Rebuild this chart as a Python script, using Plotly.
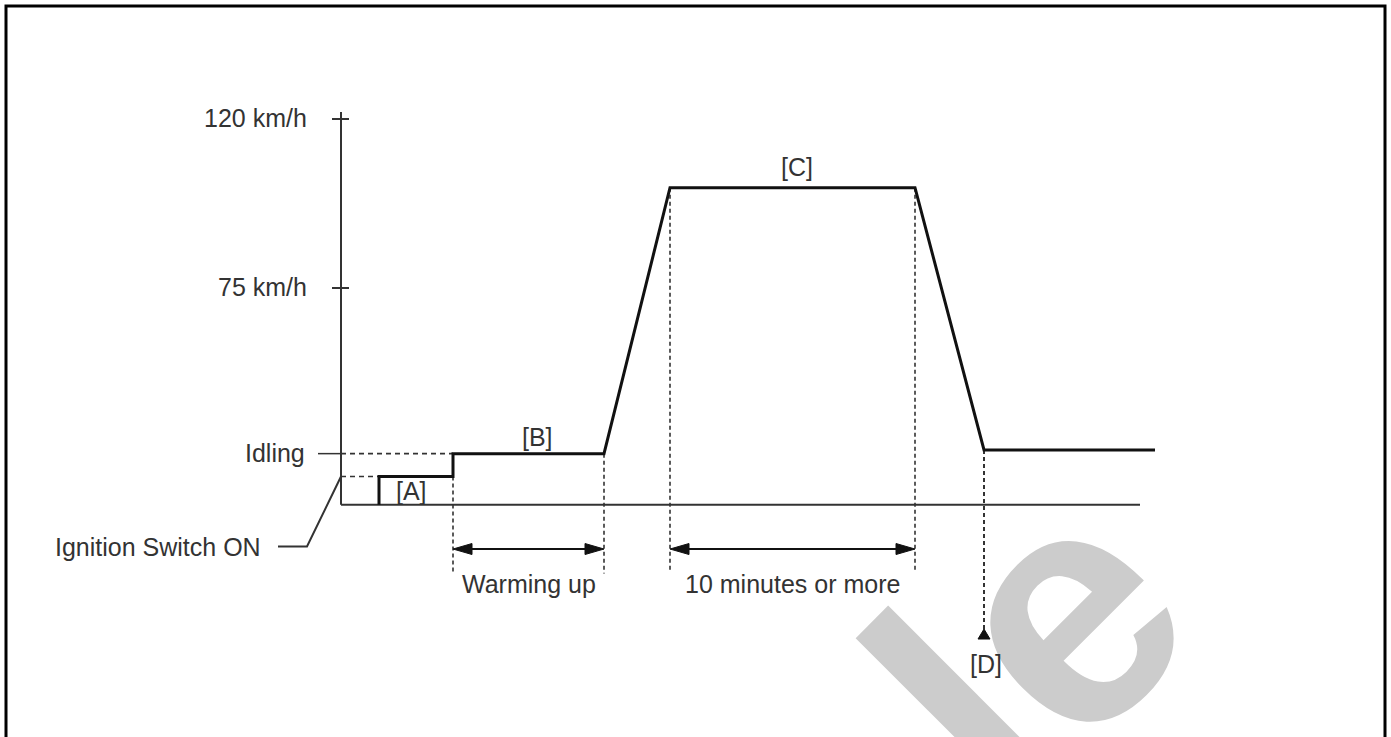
import plotly.graph_objects as go

# ---------------- data (schematic diagram units) ----------------
# time axis: arbitrary schematic time units (0 = ignition switch ON)
T_PROFILE = [3.8, 3.8, 11.2, 11.2, 26.3, 32.9, 57.4, 64.3, 81.4]
# vehicle speed in the diagram's (schematic) km/h scale
ZERO_LEVEL = 17.3
A_LEVEL = 24.8
IDLE_B = 30.9
C_LEVEL = 101.7
IDLE_D = 31.9
V_PROFILE = [ZERO_LEVEL, A_LEVEL, A_LEVEL, IDLE_B, IDLE_B, C_LEVEL, C_LEVEL, IDLE_D, IDLE_D]

TICK_VALUES = [120, 75, IDLE_B]
TICK_LABELS = ["120 km/h", "75 km/h", "Idling"]

BASE_END = 79.9
AXIS_TOP = 121.9

# phase labels
PHASE_LABELS = ["[A]", "[B]", "[C]", "[D]"]
PHASE_T = [7.0, 19.6, 45.6, 64.5]
PHASE_V = [20.9, 35.3, 107.2, -25.0]

# interval arrows: (start, end, label)
INTERVAL_START = [11.2, 32.9]
INTERVAL_END = [26.3, 57.4]
INTERVAL_TEXT = ["Warming up", "10 minutes or more"]
ARROW_LEVEL = 5.5
DROP_BOTTOM = 0.0
D_TIME = 64.3
D_MARK_LEVEL = -15.8

# ---------------- scale helpers ----------------
W, H = 1391, 737
X_RANGE = [-34.1, 105.0]
Y_RANGE = [-44.55, 151.69]
PX_X = (X_RANGE[1] - X_RANGE[0]) / W   # data units per pixel
PX_Y = (Y_RANGE[1] - Y_RANGE[0]) / H

FONT = "Liberation Sans, Arial, sans-serif"
TXT = "#333333"
FS = 25

fig = go.Figure()

# watermark (added first so diagram text stays on top)
fig.add_annotation(x=1027 / W, y=1 - 646 / H, xref="paper", yref="paper", text="le",
                   showarrow=False, textangle=-45, xanchor="center", yanchor="middle",
                   font=dict(family="Liberation Sans, Arial, sans-serif", size=335, color="#cccccc",
                             weight="bold"))


def line(x, y, color="#333333", width=2, dash=None):
    fig.add_trace(go.Scatter(x=x, y=y, mode="lines", hoverinfo="skip", showlegend=False,
                             line=dict(color=color, width=width, dash=dash)))


def tri(tip_x, tip_y, direction, length_px, half_px, color="#111111"):
    if direction in ("left", "right"):
        s = 1 if direction == "left" else -1
        bx = tip_x + s * length_px * PX_X
        xs = [tip_x, bx, bx, tip_x]
        ys = [tip_y, tip_y + half_px * PX_Y, tip_y - half_px * PX_Y, tip_y]
    else:
        by = tip_y - length_px * PX_Y
        xs = [tip_x, tip_x - half_px * PX_X, tip_x + half_px * PX_X, tip_x]
        ys = [tip_y, by, by, tip_y]
    fig.add_trace(go.Scatter(x=xs, y=ys, mode="lines", fill="toself", fillcolor=color,
                             line=dict(color=color, width=1), hoverinfo="skip", showlegend=False))


DASH = "5px,4px"
DOT = "4px,3px"
GUIDE = "#333333"

# axis and baseline
line([0, 0], [AXIS_TOP, ZERO_LEVEL], width=2)
line([0, BASE_END], [ZERO_LEVEL, ZERO_LEVEL], width=2)

# tick marks
for v, lab in zip(TICK_VALUES, TICK_LABELS):
    if lab == "Idling":
        line([-23 * PX_X, 0], [v, v], width=1.5)
    else:
        line([-9 * PX_X, 8 * PX_X], [v, v], width=2)
    fig.add_annotation(x=0, y=v, xref="x", yref="y", text=lab, showarrow=False,
                       xanchor="right", yanchor="middle", xshift=-32 if lab != "Idling" else -34,
                       yshift=1, font=dict(family=FONT, size=FS, color=TXT))

# horizontal dashed guides to the axis
line([0, T_PROFILE[2]], [IDLE_B, IDLE_B], color=GUIDE, width=1.6, dash=DASH)
line([0, T_PROFILE[0]], [A_LEVEL, A_LEVEL], color=GUIDE, width=1.6, dash=DASH)

# vertical dashed drop lines
line([T_PROFILE[2], T_PROFILE[2]], [A_LEVEL, DROP_BOTTOM - 0.8], color=GUIDE, width=1.6, dash=DOT)
line([T_PROFILE[4], T_PROFILE[4]], [IDLE_B, DROP_BOTTOM - 1.0], color=GUIDE, width=1.6, dash=DOT)
line([T_PROFILE[5], T_PROFILE[5]], [C_LEVEL, DROP_BOTTOM], color=GUIDE, width=1.6, dash=DOT)
line([T_PROFILE[6], T_PROFILE[6]], [C_LEVEL, DROP_BOTTOM - 0.5], color=GUIDE, width=1.6, dash=DOT)
line([D_TIME, D_TIME], [IDLE_D, D_MARK_LEVEL - 2], color=GUIDE, width=2, dash=DOT)
tri(D_TIME, D_MARK_LEVEL, "up", 10, 6)

# interval arrows
for s, e, txt in zip(INTERVAL_START, INTERVAL_END, INTERVAL_TEXT):
    line([s + 10 * PX_X, e - 10 * PX_X], [ARROW_LEVEL, ARROW_LEVEL], color="#111111", width=2)
    tri(s, ARROW_LEVEL, "left", 19, 5.5)
    tri(e, ARROW_LEVEL, "right", 19, 5.5)
    fig.add_annotation(x=(s + e) / 2, y=ARROW_LEVEL, xref="x", yref="y", text=txt, showarrow=False,
                       xanchor="center", yanchor="middle", yshift=-35,
                       font=dict(family=FONT, size=FS, color=TXT))

# speed profile
line(T_PROFILE, V_PROFILE, color="#111111", width=3)

# ignition switch leader
ign_x, ign_y = 0, A_LEVEL
fig.add_trace(go.Scatter(
    x=[ign_x - 63 * PX_X, ign_x - 34 * PX_X, ign_x],
    y=[ign_y - 70 * PX_Y, ign_y - 70 * PX_Y, ign_y],
    mode="lines", line=dict(color="#333333", width=2), hoverinfo="skip", showlegend=False))
fig.add_annotation(x=ign_x, y=ign_y, xref="x", yref="y", text="Ignition Switch ON", showarrow=False,
                   xanchor="right", yanchor="middle", xshift=-78, yshift=-70,
                   font=dict(family=FONT, size=FS, color=TXT))

# phase labels
for lab, t, v in zip(PHASE_LABELS, PHASE_T, PHASE_V):
    fig.add_annotation(x=t, y=v, xref="x", yref="y", text=lab, showarrow=False,
                       xanchor="center", yanchor="middle",
                       font=dict(family=FONT, size=FS, color=TXT))

# frame
fig.add_shape(type="rect", xref="paper", yref="paper", x0=6 / W, x1=1385 / W, y0=-0.02, y1=1 - 6 / H,
              line=dict(color="#000000", width=3), fillcolor="rgba(0,0,0,0)")

fig.update_layout(
    width=W, height=H, margin=dict(l=0, r=0, t=0, b=0, pad=0),
    paper_bgcolor="white", plot_bgcolor="white",
    xaxis=dict(range=X_RANGE, visible=False, fixedrange=True),
    yaxis=dict(range=Y_RANGE, visible=False, fixedrange=True),
    showlegend=False,
)

fig.write_html("out.html", config={"displayModeBar": False},
               post_script="document.body.style.margin='0';document.body.style.overflow='hidden';")
